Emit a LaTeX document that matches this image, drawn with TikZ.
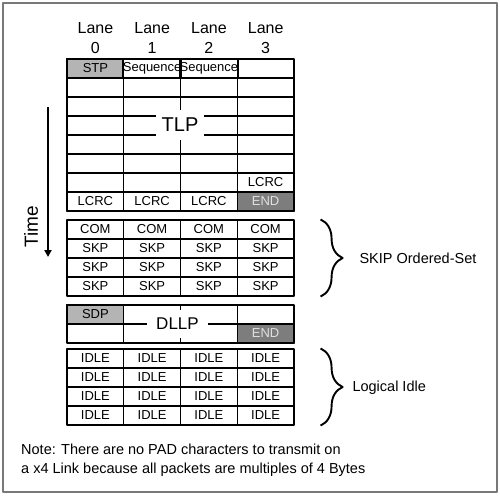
\documentclass[tikz,border=0pt]{standalone}
\usepackage{fontspec}
\setmainfont{Liberation Sans}
\usepackage{tikz}
\usetikzlibrary{arrows.meta,positioning,decorations.pathreplacing}
\definecolor{stpgrey}{RGB}{180,180,180}
\definecolor{endgrey}{RGB}{125,125,125}
\definecolor{framegrey}{RGB}{120,120,120}

\begin{document}
\begin{tikzpicture}[x=1pt,y=-1pt,line join=round,
  cell/.style={draw,line width=1.1pt,minimum width=56.75pt,minimum height=19pt,inner sep=0pt,font=\fontsize{13}{14}\selectfont},
  startcell/.style={cell,fill=stpgrey},
  endcell/.style={cell,fill=endgrey,text=white!88!black},
  blocklabel/.style={fill=white,inner sep=0pt},
  bracket/.style={decorate,decoration={brace,amplitude=22pt},line width=1.9pt},
  sidelabel/.style={anchor=west,font=\fontsize{14.5}{17}\selectfont}]
\useasboundingbox (0,0) rectangle (500,495);
\draw[framegrey,line width=1.6pt] (3,3) rectangle (497,492);
\foreach \c in {0,...,3}
  \node[align=center,font=\fontsize{16}{20}\selectfont] (lane-\c) at (95.4+56.75*\c,38) {Lane\\\c};
\coordinate (t-top) at (48,107);
\coordinate (t-bot) at (48,257);
\draw[-{Triangle[length=7pt,width=7pt]},line width=1.8pt] (t-top) -- (t-bot);
\node[rotate=90,font=\fontsize{19}{19}\selectfont] (time) at (31,227) {Time};
\foreach \r in {0,...,7}
  \foreach \c in {0,...,3}
    \node[cell] (tlp-\r-\c) at (95.4+56.75*\c,68.5+19*\r) {};
\node[startcell] (stp) at (tlp-0-0) {STP};
\node[cell] (seq-1) at (tlp-0-1) {Sequence};
\node[cell] (seq-2) at (tlp-0-2) {Sequence};
\node[cell] (lcrc-3) at (tlp-6-3) {LCRC};
\foreach \c in {0,1,2}
  \node[cell] (lcrc-\c) at (tlp-7-\c) {LCRC};
\node[endcell] (tlp-end) at (tlp-7-3) {END};
\node[blocklabel,minimum width=48pt,minimum height=30pt,font=\fontsize{20}{20}\selectfont] (tlp) at (180,125) {TLP};
\foreach \t [count=\r from 0] in {COM,SKP,SKP,SKP}
  \foreach \c in {0,...,3}
    \node[cell] (skp-\r-\c) at (95.4+56.75*\c,229.5+19*\r) {\t};
\draw[bracket] ([xshift=26pt]skp-0-3.north east) -- ([xshift=26pt]skp-3-3.south east);
\node[sidelabel] (skip) at (356,258) {SKIP Ordered-Set};
\foreach \r in {0,1}
  \foreach \c in {0,...,3}
    \node[cell] (dllp-\r-\c) at (95.4+56.75*\c,314.5+19*\r) {};
\node[startcell] (sdp) at (dllp-0-0) {SDP};
\node[endcell] (dllp-end) at (dllp-1-3) {END};
\node[blocklabel,minimum width=61pt,minimum height=28pt,font=\fontsize{17}{17}\selectfont] (dllp) at (177.5,324) {DLLP};
\foreach \r in {0,...,3}
  \foreach \c in {0,...,3}
    \node[cell] (idle-\r-\c) at (95.4+56.75*\c,358.5+19*\r) {IDLE};
\draw[bracket] ([xshift=26pt]idle-0-3.north east) -- ([xshift=26pt]idle-3-3.south east);
\node[sidelabel] (logidle) at (349,388) {Logical Idle};
\node[anchor=north west,align=left,inner sep=0pt,font=\fontsize{14.5}{19}\selectfont] (note) at (21,444) {Note: There are no PAD characters to transmit on\\a x4 Link because all packets are multiples of 4 Bytes};
\end{tikzpicture}
\end{document}
